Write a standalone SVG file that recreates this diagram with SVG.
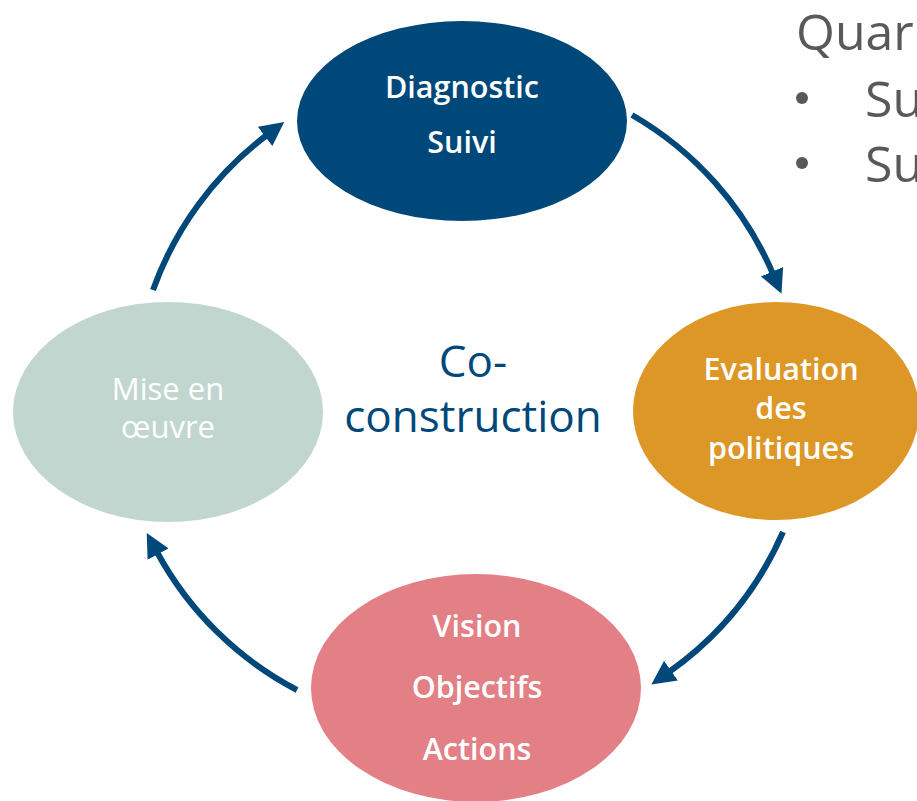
<svg xmlns="http://www.w3.org/2000/svg" width="917" height="801" viewBox="0 0 917 801">
<defs>
<style>
.lbl{font-family:"Open Sans","Noto Sans","Liberation Sans",sans-serif;fill:#ffffff;text-anchor:middle;font-weight:600;font-size:30.5px}
.lbl2{font-family:"Open Sans","Noto Sans","Liberation Sans",sans-serif;fill:#ffffff;text-anchor:middle;font-weight:400;font-size:31px}
.center{font-family:"Open Sans","Noto Sans","Liberation Sans",sans-serif;fill:#00487A;text-anchor:middle;font-size:44px}
.side{font-family:"Open Sans","Noto Sans","Liberation Sans",sans-serif;fill:#595959;font-size:50px}
.arc{fill:none;stroke:#00487A;stroke-width:6;marker-end:url(#ah)}
</style>
<marker id="ah" viewBox="0 0 10 10" refX="1" refY="5" markerWidth="24" markerHeight="24" markerUnits="userSpaceOnUse" orient="auto">
<path d="M0,0 L10,5 L0,10 z" fill="#00487A"/>
</marker>
</defs>
<rect width="917" height="801" fill="#ffffff"/>
<g id="connectors">
<path class="arc" d="M 153 290 A 336 336 0 0 1 267 135"/>
<path class="arc" d="M 632 115 A 336 336 0 0 1 773 274"/>
<path class="arc" d="M 783 532 A 336 336 0 0 1 669 672"/>
<path class="arc" d="M 297 690 A 336 336 0 0 1 157 552"/>
</g>
<g id="node-diagnostic">
<ellipse cx="462" cy="121" rx="165" ry="100" fill="#00487A"/>
<text class="lbl" x="462" y="98">Diagnostic</text>
<text class="lbl" x="462" y="153">Suivi</text>
</g>
<g id="node-evaluation">
<ellipse cx="776" cy="411" rx="143" ry="109" fill="#DC9726"/>
<text class="lbl" x="781" y="380">Evaluation</text>
<text class="lbl" x="781" y="419">des</text>
<text class="lbl" x="781" y="459">politiques</text>
</g>
<g id="node-vision">
<ellipse cx="476" cy="688" rx="165" ry="114" fill="#E38086"/>
<text class="lbl" x="477" y="637">Vision</text>
<text class="lbl" x="477" y="698">Objectifs</text>
<text class="lbl" x="477" y="760">Actions</text>
</g>
<g id="node-mise">
<ellipse cx="168" cy="412" rx="155" ry="110" fill="#C2D6D0"/>
<text class="lbl2" x="168" y="400">Mise en</text>
<text class="lbl2" x="168" y="438">œuvre</text>
</g>
<g id="center-label">
<text class="center" x="473" y="377">Co-</text>
<text class="center" x="473" y="432">construction</text>
</g>
<g id="side-text">
<text class="side" x="796" y="50">Quar</text>
<circle cx="802" cy="98" r="6" fill="#595959"/>
<text class="side" x="865" y="117">Su</text>
<circle cx="802" cy="163" r="6" fill="#595959"/>
<text class="side" x="865" y="182">Su</text>
</g>
</svg>
